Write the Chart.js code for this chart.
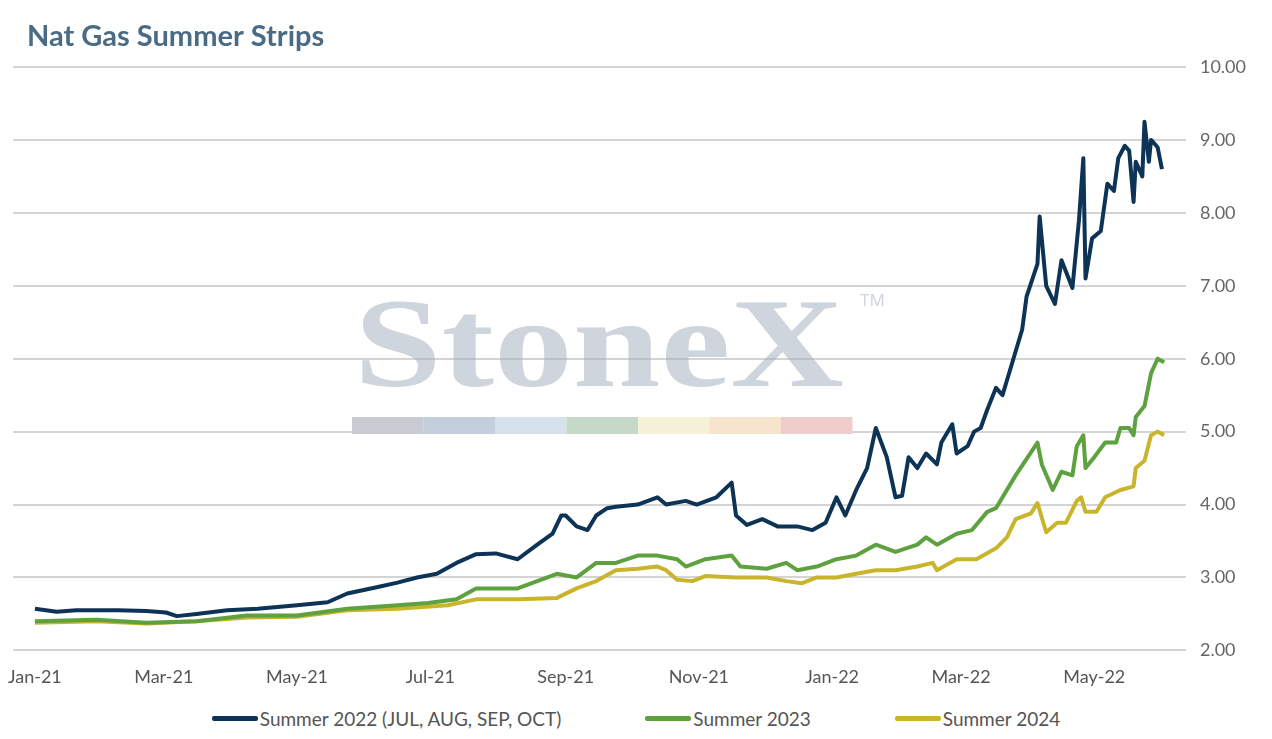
<!DOCTYPE html>
<html>
<head>
<meta charset="utf-8">
<script src="https://cdn.jsdelivr.net/npm/chart.js@4"></script>
<style>
  html, body { margin: 0; padding: 0; background: #fff; }
  #wrap { width: 1272px; height: 696px; position: relative; }
  #legend { position: absolute; top: 707px; left: 0; width: 1272px; display: flex; justify-content: center;
    font: 19px Lato, sans-serif; color: #555; }
  #legend span.item { display: inline-flex; align-items: center; margin: 0 42px; }
  #legend span.sw { width: 46px; height: 5px; border-radius: 2px; margin-right: 2px; display: inline-block; }
</style>
</head>
<body>
<div id="wrap"><canvas id="chart"></canvas></div>
<div id="legend"></div>
<script>
// x values are days since 1 Jan 2021
const tickDays = [0, 59, 120, 181, 243, 304, 365, 424, 485];
const tickLabels = ["Jan-21", "Mar-21", "May-21", "Jul-21", "Sep-21", "Nov-21", "Jan-22", "Mar-22", "May-22"];

const days2022 = [0,10,19,28,38,51,60,65,74,88,102,120,134,143,157,166,175,184,193,202,211,221,230,237,241,243,248,253,257,262,266,276,285,289,298,303,312,319,321,326,333,340,349,356,362,367,371,376,381,385,390,394,397,400,404,408,413,415,420,422,427,430,433,436,440,443,447,452,454,459,460,463,467,470,475,478,480,481,484,488,491,494,496,499,501,503,504,507,508,510,511,514,516];
const summer2022 = [2.57,2.53,2.55,2.55,2.55,2.54,2.52,2.47,2.50,2.55,2.57,2.62,2.66,2.78,2.87,2.93,3.00,3.05,3.20,3.32,3.33,3.25,3.45,3.60,3.85,3.85,3.70,3.65,3.85,3.95,3.97,4.00,4.10,4.00,4.05,4.00,4.10,4.30,3.85,3.72,3.80,3.70,3.70,3.65,3.75,4.10,3.85,4.20,4.50,5.05,4.65,4.10,4.12,4.65,4.50,4.70,4.55,4.85,5.10,4.70,4.80,5.00,5.05,5.30,5.60,5.50,5.90,6.40,6.85,7.30,7.95,7.00,6.75,7.35,6.97,7.90,8.75,7.10,7.65,7.75,8.40,8.30,8.75,8.92,8.85,8.15,8.70,8.50,9.25,8.70,9.00,8.90,8.60];

const days2023 = [0,28,51,74,97,120,143,166,180,193,202,221,239,248,257,266,276,285,294,298,307,319,323,335,344,349,358,367,376,385,394,404,408,413,422,429,436,440,449,459,461,466,470,475,477,480,481,485,490,495,497,501,503,504,508,511,514,517];
const summer2023 = [2.40,2.42,2.38,2.40,2.48,2.48,2.57,2.62,2.65,2.70,2.85,2.85,3.05,3.00,3.20,3.20,3.30,3.30,3.25,3.15,3.25,3.30,3.15,3.12,3.20,3.10,3.15,3.25,3.30,3.45,3.35,3.45,3.55,3.45,3.60,3.65,3.90,3.95,4.40,4.85,4.55,4.20,4.45,4.40,4.80,4.95,4.50,4.65,4.85,4.85,5.05,5.05,4.95,5.20,5.35,5.80,6.00,5.95];

const days2024 = [0,28,51,74,97,120,143,166,189,202,221,239,248,257,266,276,285,289,294,301,307,321,335,344,351,358,367,376,385,394,404,411,413,422,431,440,445,449,456,459,463,468,472,477,479,481,486,490,497,503,504,508,511,514,517];
const summer2024 = [2.38,2.40,2.37,2.40,2.45,2.46,2.55,2.57,2.62,2.70,2.70,2.72,2.85,2.95,3.10,3.12,3.15,3.10,2.97,2.95,3.02,3.00,3.00,2.95,2.92,3.00,3.00,3.05,3.10,3.10,3.15,3.20,3.10,3.25,3.25,3.40,3.55,3.80,3.88,4.02,3.62,3.75,3.75,4.05,4.10,3.90,3.90,4.10,4.20,4.25,4.50,4.60,4.95,5.00,4.95];

const yTicks = [2, 3, 4, 5, 6, 7, 8, 9, 10];

function toPoints(days, vals) {
  return days.map((d, i) => ({ x: d, y: vals[i] }));
}

function series(label, days, vals, color) {
  return {
    label,
    data: toPoints(days, vals),
    borderColor: color,
    backgroundColor: color,
    borderWidth: 4,
    pointRadius: 0,
    tension: 0,
    borderJoinStyle: "round"
  };
}

// title + faded StoneX logo behind the lines
const decor = {
  id: "decor",
  beforeDatasetsDraw(chart) {
    const ctx = chart.ctx;
    ctx.save();
    ctx.fillStyle = "#4a6b85";
    ctx.font = "bold 29px Lato, sans-serif";
    ctx.textBaseline = "alphabetic";
    ctx.fillText("Nat Gas Summer Strips", 27, 46);

    ctx.fillStyle = "rgba(160,172,186,0.5)";
    ctx.save();
    ctx.translate(354, 386);
    ctx.scale(1.25, 1);
    ctx.font = "bold 126px 'Liberation Serif', serif";
    ctx.fillText("StoneX", 0, 0);
    ctx.restore();
    ctx.font = "17px 'Noto Sans', sans-serif";
    ctx.fillText("TM", 860, 306);
    const bars = ["#c8ccd2", "#c3cfdd", "#d6e1ec", "#c6d9c8", "#f5f2d8", "#f6e4cc", "#f1cccc"];
    bars.forEach((c, i) => {
      ctx.fillStyle = c;
      ctx.fillRect(352 + i * 71.5, 417, 71.5, 17);
    });
    ctx.restore();
  }
};

const chart = new Chart(document.getElementById("chart"), {
  type: "line",
  data: {
    datasets: [
      series("Summer 2022 (JUL, AUG, SEP, OCT)", days2022, summer2022, "#0d3356"),
      series("Summer 2023", days2023, summer2023, "#5ea13f"),
      series("Summer 2024", days2024, summer2024, "#c9b52c")
    ]
  },
  options: {
    responsive: true,
    maintainAspectRatio: false,
    animation: false,
    layout: { padding: { left: 0, right: 12, top: 67, bottom: 0 } },
    plugins: {
      legend: { display: false },
      tooltip: { enabled: false }
    },
    scales: {
      x: {
        type: "linear",
        min: -10,
        max: 527,
        afterBuildTicks(axis) {
          axis.ticks = tickDays.map((v) => ({ value: v }));
        },
        ticks: {
          autoSkip: false,
          maxRotation: 0,
          color: "#555",
          font: { family: "Lato", size: 18 },
          padding: 8,
          callback: (v) => tickLabels[tickDays.indexOf(v)]
        },
        grid: { display: false },
        border: { display: false }
      },
      y: {
        position: "right",
        min: 2,
        max: 10,
        afterBuildTicks(axis) {
          axis.ticks = yTicks.map((v) => ({ value: v }));
        },
        ticks: {
          color: "#666",
          font: { family: "Lato", size: 18 },
          padding: 14,
          callback: (v) => v.toFixed(2)
        },
        grid: { color: "#d4d4d4", lineWidth: 2, drawTicks: false },
        border: { display: false }
      }
    }
  },
  plugins: [decor]
});

const legend = document.getElementById("legend");
chart.data.datasets.forEach((ds) => {
  const item = document.createElement("span");
  item.className = "item";
  const sw = document.createElement("span");
  sw.className = "sw";
  sw.style.background = ds.borderColor;
  item.append(sw, document.createTextNode(ds.label));
  legend.appendChild(item);
});
</script>
</body>
</html>
